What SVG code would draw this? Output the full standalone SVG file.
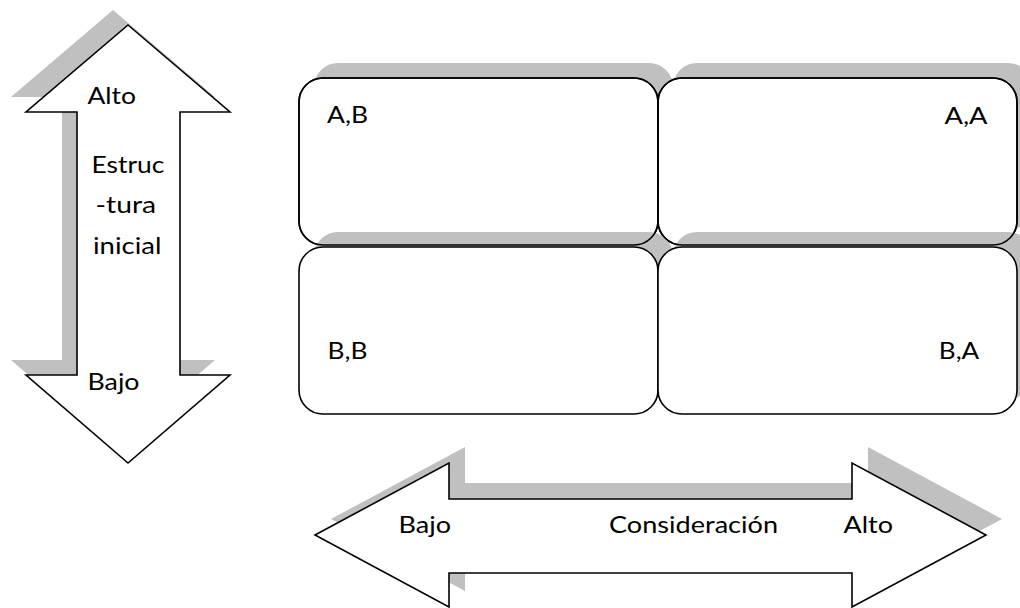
<svg xmlns="http://www.w3.org/2000/svg" xmlns:xlink="http://www.w3.org/1999/xlink" width="1020" height="608" viewBox="0 0 1020 608">
<style>
.shadow{fill:#c0c0c0;stroke:none}
.shape{fill:#ffffff;stroke:#000000;stroke-width:1.6;stroke-linejoin:miter}
.outline{fill:none;stroke:#000000;stroke-width:1.6}
.lbl{font-family:Lato,"Open Sans","Liberation Sans",sans-serif;font-size:23px;fill:#000000}
</style>
<defs>
<path id="varrow" d="M128,25 L230,112 L180,112 L180,375 L230,375 L128,463 L26,375 L77,375 L77,112 L26,112 Z"/>
<path id="harrow" d="M315,535 L449,463 L449,499 L852,499 L852,463 L986,535 L852,607 L852,573 L449,573 L449,607 Z"/>
<rect id="boxTL" x="299" y="78" width="359" height="167" rx="24" ry="24"/>
<rect id="boxTR" x="658" y="78" width="359" height="167" rx="24" ry="24"/>
<rect id="boxBL" x="299" y="247" width="359" height="167" rx="24" ry="24"/>
<rect id="boxBR" x="658" y="247" width="359" height="167" rx="24" ry="24"/>
</defs>
<rect width="1020" height="608" fill="#ffffff"/>

<g id="estructura-arrow">
<use xlink:href="#varrow" class="shadow" transform="translate(-15,-15)"/>
<use xlink:href="#varrow" class="shape"/>
<text class="lbl" x="87.5" y="104" textLength="48.5" lengthAdjust="spacingAndGlyphs">Alto</text>
<text class="lbl" x="91.5" y="173.3" textLength="73" lengthAdjust="spacingAndGlyphs">Estruc</text>
<text class="lbl" x="95.5" y="213.3" textLength="60.5" lengthAdjust="spacingAndGlyphs">-tura</text>
<text class="lbl" x="93" y="254.3" textLength="68.5" lengthAdjust="spacingAndGlyphs">inicial</text>
<text class="lbl" x="87.5" y="390" textLength="52" lengthAdjust="spacingAndGlyphs">Bajo</text>
</g>

<g id="box-AB">
<use xlink:href="#boxTL" class="shadow" transform="translate(15,-15)"/>
<use xlink:href="#boxTL" class="shape"/>
<text class="lbl" x="327" y="123.3" textLength="41" lengthAdjust="spacingAndGlyphs">A,B</text>
</g>

<g id="box-AA">
<use xlink:href="#boxTR" class="shadow" transform="translate(15,-15)"/>
<use xlink:href="#boxTR" class="shape"/>
<text class="lbl" x="944.5" y="124" textLength="43" lengthAdjust="spacingAndGlyphs">A,A</text>
</g>

<g id="box-BB">
<use xlink:href="#boxBL" class="shadow" transform="translate(15,-15)"/>
<use xlink:href="#boxBL" class="shape"/>
<text class="lbl" x="327.5" y="359.3" textLength="40" lengthAdjust="spacingAndGlyphs">B,B</text>
</g>

<g id="box-BA">
<use xlink:href="#boxBR" class="shadow" transform="translate(15,-15)"/>
<use xlink:href="#boxBR" class="shape"/>
<text class="lbl" x="938.8" y="359.3" textLength="40.5" lengthAdjust="spacingAndGlyphs">B,A</text>
</g>

<g id="box-outlines">
<use xlink:href="#boxTL" class="outline"/>
<use xlink:href="#boxTR" class="outline"/>
</g>

<g id="consideracion-arrow">
<use xlink:href="#harrow" class="shadow" transform="translate(16,-16)"/>
<use xlink:href="#harrow" class="shape"/>
<text class="lbl" x="398.5" y="533.3" textLength="52.5" lengthAdjust="spacingAndGlyphs">Bajo</text>
<text class="lbl" x="609" y="533.3" textLength="169" lengthAdjust="spacingAndGlyphs">Consideración</text>
<text class="lbl" x="843.5" y="533.3" textLength="49.5" lengthAdjust="spacingAndGlyphs">Alto</text>
</g>
</svg>
